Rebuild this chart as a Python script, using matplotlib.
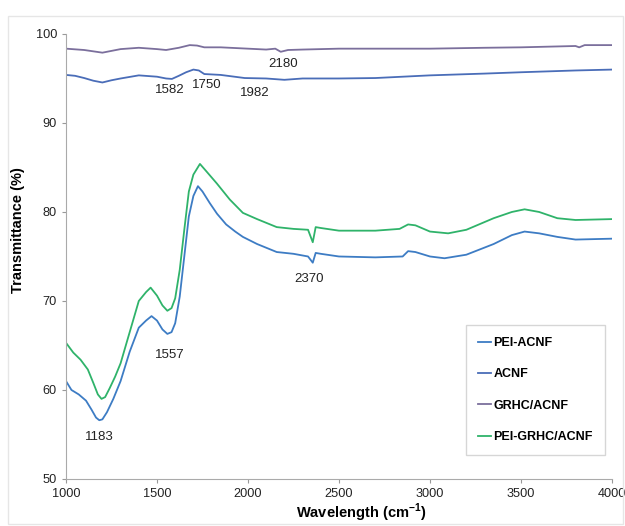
import matplotlib
matplotlib.use('Agg')
import matplotlib.pyplot as plt
from matplotlib.patches import Rectangle

plt.rcParams['font.family'] = ['Liberation Sans', 'DejaVu Sans']
plt.rcParams['mathtext.fontset'] = 'custom'
plt.rcParams['mathtext.rm'] = 'Liberation Sans'
plt.rcParams['mathtext.bf'] = 'Liberation Sans:bold'

# GRHC/ACNF
grhc_x = [1000, 1100, 1150, 1200, 1250, 1300, 1400, 1500, 1550, 1620, 1680, 1720, 1760, 1850, 2000,
          2100, 2150, 2180, 2220, 2300, 2500, 2700, 3000, 3300, 3500, 3700, 3800, 3820, 3850, 3900, 4000]
grhc_y = [98.35, 98.2, 98.05, 97.9, 98.1, 98.3, 98.45, 98.3, 98.2, 98.45, 98.75, 98.7, 98.5, 98.5, 98.35,
          98.25, 98.35, 98.0, 98.2, 98.25, 98.35, 98.35, 98.35, 98.45, 98.5, 98.6, 98.65, 98.5, 98.75, 98.75, 98.75]

# ACNF
acnf_x = [1000, 1050, 1100, 1150, 1200, 1250, 1300, 1400, 1500, 1550, 1582, 1620, 1660, 1700, 1730,
          1760, 1850, 1982, 2100, 2200, 2300, 2500, 2700, 3000, 3300, 3500, 3800, 4000]
acnf_y = [95.4, 95.3, 95.05, 94.75, 94.55, 94.8, 95.0, 95.35, 95.2, 95.0, 94.95, 95.3, 95.7, 96.0, 95.9,
          95.5, 95.4, 95.05, 95.0, 94.85, 95.0, 95.0, 95.05, 95.35, 95.55, 95.7, 95.9, 96.0]

# PEI-ACNF
pei_x = [1000, 1030, 1070, 1110, 1140, 1165, 1183, 1200, 1225, 1260, 1300, 1350, 1400, 1440, 1470,
         1500, 1530, 1557, 1580, 1600, 1625, 1650, 1675, 1700, 1725, 1750, 1790, 1830, 1880, 1930,
         1972, 2050, 2158, 2250, 2330, 2356, 2372, 2400, 2500, 2700, 2850, 2880, 2920, 3000, 3080,
         3200, 3350, 3450, 3520, 3600, 3700, 3800, 4000]
pei_y = [61.0, 60.0, 59.5, 58.8, 57.8, 56.9, 56.6, 56.7, 57.5, 59.0, 61.0, 64.3, 67.0, 67.8, 68.3,
         67.8, 66.8, 66.3, 66.5, 67.5, 70.5, 75.0, 79.5, 81.8, 82.9, 82.3, 81.0, 79.8, 78.6, 77.8,
         77.2, 76.4, 75.5, 75.3, 75.0, 74.3, 75.4, 75.3, 75.0, 74.9, 75.0, 75.6, 75.5, 75.0, 74.8,
         75.2, 76.4, 77.4, 77.8, 77.6, 77.2, 76.9, 77.0]

# PEI-GRHC/ACNF
pg_x = [1000, 1040, 1080, 1120, 1150, 1175, 1195, 1215, 1240, 1270, 1300, 1350, 1400, 1440, 1465,
        1500, 1530, 1557, 1580, 1600, 1625, 1650, 1675, 1700, 1736, 1770, 1829, 1900, 1972, 2050,
        2158, 2250, 2330, 2356, 2372, 2400, 2500, 2700, 2833, 2880, 2920, 3000, 3100, 3200, 3350,
        3450, 3520, 3600, 3700, 3800, 4000]
pg_y = [65.3, 64.2, 63.4, 62.3, 60.8, 59.5, 59.0, 59.2, 60.2, 61.5, 63.0, 66.5, 70.0, 71.0, 71.5,
        70.6, 69.5, 68.9, 69.2, 70.3, 73.5, 78.0, 82.3, 84.2, 85.4, 84.6, 83.2, 81.4, 79.9, 79.2,
        78.3, 78.1, 78.0, 76.6, 78.3, 78.2, 77.9, 77.9, 78.1, 78.6, 78.5, 77.8, 77.6, 78.0, 79.3,
        80.0, 80.3, 80.0, 79.3, 79.1, 79.2]

peak_labels = ['2180', '1582', '1750', '1982', '2370', '1557', '1183']
peak_x = [2192, 1571, 1775, 2038, 2334, 1571, 1181]
peak_y = [96.6, 93.7, 94.3, 93.4, 72.5, 63.9, 54.7]

fig = plt.figure(figsize=(6.25, 5.26), dpi=100)
fig.patches.append(Rectangle((0.012, 0.004), 0.985, 0.965, transform=fig.transFigure,
                             fill=False, edgecolor='#e6e6e6', linewidth=1.0))
ax = fig.add_axes([0.1056, 0.0894, 0.8735, 0.846])

ax.plot(pei_x, pei_y, color='#3d7cc4', lw=1.3, label='PEI-ACNF')
ax.plot(acnf_x, acnf_y, color='#4a6db8', lw=1.3, label='ACNF')
ax.plot(grhc_x, grhc_y, color='#7b6f9c', lw=1.3, label='GRHC/ACNF')
ax.plot(pg_x, pg_y, color='#2fb36a', lw=1.3, label='PEI-GRHC/ACNF')

for t, x, y in zip(peak_labels, peak_x, peak_y):
    ax.text(x, y, t, ha='center', va='center', fontsize=9.5, color='#222222')

ax.set_xlim(1000, 4000)
ax.set_ylim(50, 100)
ax.set_xticks([1000, 1500, 2000, 2500, 3000, 3500, 4000])
ax.set_yticks([50, 60, 70, 80, 90, 100])
ax.tick_params(labelsize=9.2, length=3, color='#999999', labelcolor='#222222')
ax.spines['top'].set_visible(False)
ax.spines['right'].set_visible(False)
ax.spines['left'].set_color('#aaaaaa')
ax.spines['bottom'].set_color('#aaaaaa')

ax.set_xlabel(r'Wavelength (cm$^{\mathbf{-1}}$)', fontsize=10.5, fontweight='bold')
ax.xaxis.set_label_coords(0.54, -0.052)
ax.set_ylabel('Transmittance (%)', fontsize=10.5, fontweight='bold')
ax.yaxis.set_label_coords(-0.075, 0.56)

leg = ax.legend(loc='lower left', bbox_to_anchor=(0.722, 0.04), fontsize=9,
                handlelength=1.0, handletextpad=0.2, labelspacing=1.55,
                borderpad=0.95, fancybox=False, edgecolor='#cccccc')
for txt in leg.get_texts():
    txt.set_fontweight('bold')

fig.savefig('out.png', dpi=100)
